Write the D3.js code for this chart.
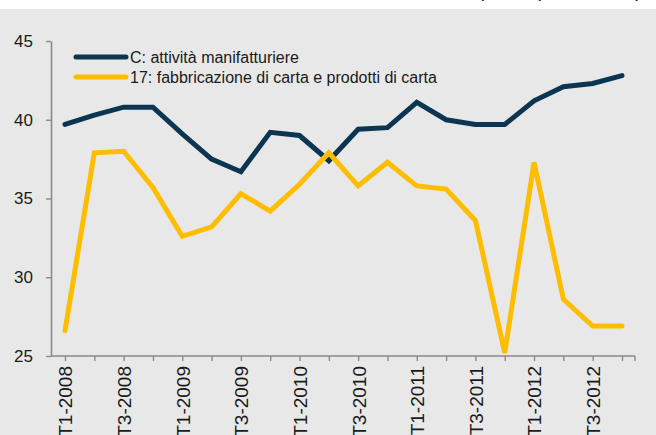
<!DOCTYPE html>
<html>
<head>
<meta charset="utf-8">
<script src="https://cdn.jsdelivr.net/npm/d3@7"></script>
<style>
  html, body { margin: 0; padding: 0; background: #fff; }
  svg { display: block; font-family: "Liberation Sans", Arial, Helvetica, sans-serif; }
</style>
</head>
<body>
<svg id="chart" width="656" height="435"></svg>
<script>
const quarters = [
  "T1-2008","T2-2008","T3-2008","T4-2008",
  "T1-2009","T2-2009","T3-2009","T4-2009",
  "T1-2010","T2-2010","T3-2010","T4-2010",
  "T1-2011","T2-2011","T3-2011","T4-2011",
  "T1-2012","T2-2012","T3-2012","T4-2012"
];
const seriesNames = ["C: attività manifatturiere", "17: fabbricazione di carta e prodotti di carta"];
const manifatturiere = [39.7, 40.3, 40.8, 40.8, 39.1, 37.5, 36.7, 39.2, 39.0, 37.4,
                        39.4, 39.5, 41.1, 40.0, 39.7, 39.7, 41.2, 42.1, 42.3, 42.8];
const carta = [26.6, 37.9, 38.0, 35.7, 32.6, 33.2, 35.3, 34.2, 35.9, 37.9,
               35.8, 37.3, 35.8, 35.6, 33.6, 25.2, 37.3, 28.6, 26.9, 26.9];
const yTicks = [25, 30, 35, 40, 45];
const unitNote = "(valori percentuali)";

const svg = d3.select("#chart");
const W = 656, H = 435;

// background
svg.append("rect").attr("x", 0).attr("y", 9).attr("width", W).attr("height", H - 9).attr("fill", "#e8e8e8");

// cut-off unit note at the top right (only descenders visible, as in the reference)
svg.append("text").attr("x", 642).attr("y", -3).attr("text-anchor", "end")
  .attr("font-size", 20).attr("fill", "#222").text(unitNote);

const x = d3.scalePoint().domain(quarters).range([65, 622]);
const y = d3.scaleLinear().domain([25, 45]).range([356, 41]);
const axisColor = "#8a8a8a";

// Y axis
const yAxis = svg.append("g").attr("transform", "translate(51,0)")
  .call(d3.axisLeft(y).tickValues(yTicks).tickSize(5).tickPadding(13).tickSizeOuter(0));
yAxis.select(".domain").attr("stroke", axisColor).attr("stroke-width", 1.6);
yAxis.selectAll(".tick line").attr("stroke", axisColor).attr("stroke-width", 1.4);
yAxis.selectAll(".tick text").attr("font-size", 17).attr("fill", "#1a1a1a")
  .attr("font-family", "'Liberation Sans', Arial, sans-serif");

// X axis
const xAxisG = svg.append("g").attr("transform", "translate(0,356)");
xAxisG.call(d3.axisBottom(x).tickSize(5).tickSizeOuter(0)
  .tickFormat((d, i) => i % 2 === 0 ? d : ""));
xAxisG.select(".domain").remove();
xAxisG.append("line").attr("x1", 51).attr("x2", 635).attr("y1", 0).attr("y2", 0)
  .attr("stroke", axisColor).attr("stroke-width", 1.6);
xAxisG.append("line").attr("x1", 635).attr("x2", 635).attr("y1", 0).attr("y2", 5)
  .attr("stroke", axisColor).attr("stroke-width", 1.4);
xAxisG.selectAll(".tick line").attr("stroke", axisColor).attr("stroke-width", 1.4);
xAxisG.selectAll(".tick text")
  .attr("font-size", 19).attr("fill", "#1a1a1a")
  .attr("font-family", "'Liberation Sans', Arial, sans-serif")
  .attr("text-anchor", "end")
  .attr("transform", "rotate(-90)")
  .attr("x", -10).attr("y", 0).attr("dy", "0.36em");

// lines
const line = d3.line().x((d, i) => x(quarters[i])).y(d => y(d));
const colors = ["#0b3550", "#fdbd00"];
[manifatturiere, carta].forEach((vals, k) => {
  svg.append("path").datum(vals).attr("d", line)
    .attr("fill", "none").attr("stroke", colors[k]).attr("stroke-width", 5)
    .attr("stroke-linejoin", "miter").attr("stroke-miterlimit", 4)
    .attr("stroke-linecap", "round");
});

// legend
const legend = svg.append("g");
seriesNames.forEach((name, k) => {
  const ly = 57 + k * 20;
  legend.append("line").attr("x1", 76).attr("x2", 126).attr("y1", ly).attr("y2", ly)
    .attr("stroke", colors[k]).attr("stroke-width", 5).attr("stroke-linecap", "round");
  legend.append("text").attr("x", 130).attr("y", ly).attr("dy", "0.35em")
    .attr("font-size", 16).attr("fill", "#1a1a1a").text(name);
});
</script>
</body>
</html>
